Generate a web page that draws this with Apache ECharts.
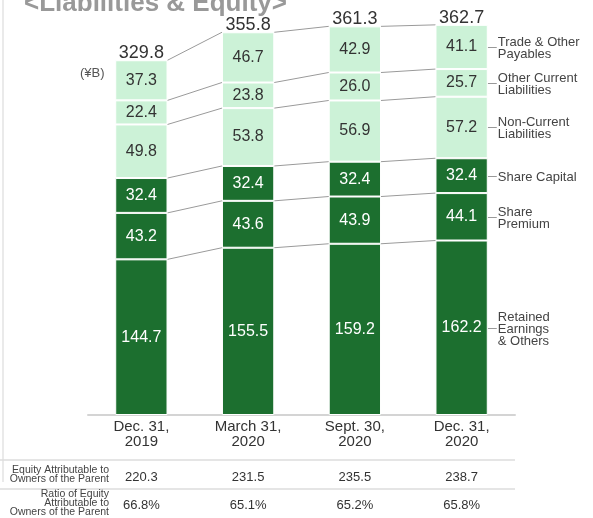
<!DOCTYPE html>
<html>
<head>
<meta charset="utf-8">
<script src="https://cdn.jsdelivr.net/npm/echarts@6/dist/echarts.min.js"></script>
<style>
  html, body { margin: 0; padding: 0; background: #fff; }
  #chart { width: 593px; height: 518px; }
</style>
</head>
<body>
<div id="chart"></div>
<script>
  var categories = ['Dec. 31,\n2019', 'March 31,\n2020', 'Sept. 30,\n2020', 'Dec. 31,\n2020'];

  // stacked from the bottom up
  var retained = [144.7, 155.5, 159.2, 162.2];
  var premium = [43.2, 43.6, 43.9, 44.1];
  var capital = [32.4, 32.4, 32.4, 32.4];
  var nonCurrent = [49.8, 53.8, 56.9, 57.2];
  var otherCurrent = [22.4, 23.8, 26.0, 25.7];
  var tradePayables = [37.3, 46.7, 42.9, 41.1];
  var totals = [329.8, 355.8, 361.3, 362.7];

  var seriesNames = ['Retained\nEarnings\n& Others', 'Share\nPremium', 'Share Capital',
    'Non-Current\nLiabilities', 'Other Current\nLiabilities', 'Trade & Other\nPayables'];

  var equity = ['220.3', '231.5', '235.5', '238.7'];
  var equityRatio = ['66.8%', '65.1%', '65.2%', '65.8%'];
  var rowLabels = ['Equity Attributable to\nOwners of the Parent', 'Ratio of Equity\nAttributable to\nOwners of the Parent'];

  var FONT = '"Liberation Sans", Arial, sans-serif';
  var DARK = '#1c6f2f';
  var LIGHT = '#ccf2d7';

  var stacks = [retained, premium, capital, nonCurrent, otherCurrent, tradePayables];
  var colors = [DARK, DARK, DARK, LIGHT, LIGHT, LIGHT];

  // running tops of each segment, per bar
  var tops = [];
  var bottoms = [];
  var running = [0, 0, 0, 0];
  stacks.forEach(function (arr) {
    bottoms.push(running.slice());
    running = running.map(function (v, i) { return +(v + arr[i]).toFixed(1); });
    tops.push(running.slice());
  });

  var connectorData = [];
  tops.forEach(function (levels) {
    for (var i = 0; i < levels.length - 1; i++) {
      connectorData.push([i, levels[i], levels[i + 1]]);
    }
  });

  var legendData = stacks.map(function (arr, k) {
    return [3, (bottoms[k][3] + tops[k][3]) / 2, k];
  });

  var totalData = totals.map(function (v, i) { return [i, v]; });

  var HALF = 0.245;

  var barSeries = stacks.map(function (arr, k) {
    return {
      type: 'bar',
      name: seriesNames[k],
      stack: 'all',
      barWidth: '49%',
      data: arr,
      itemStyle: { color: colors[k], borderColor: '#fff', borderWidth: 1 },
      label: {
        show: true,
        position: 'inside',
        fontFamily: FONT,
        fontSize: 16,
        color: colors[k] === DARK ? '#fff' : '#333',
        formatter: function (p) { return p.value.toFixed(1); }
      }
    };
  });

  var chart = echarts.init(document.getElementById('chart'));

  var option = {
    animation: false,
    title: {
      text: '<Liabilities & Equity>',
      left: 19,
      top: -14,
      textStyle: { fontFamily: FONT, fontSize: 26, fontWeight: 'bold', color: '#999' }
    },
    grid: { left: 88, right: 78, top: 17, bottom: 103 },
    xAxis: [
      {
        type: 'category',
        data: categories,
        axisLine: { lineStyle: { color: '#d4d4d4', width: 2 } },
        axisTick: { show: false },
        axisLabel: { fontFamily: FONT, fontSize: 15, lineHeight: 15, color: '#333', margin: 4 }
      },
      {
        type: 'category',
        data: equity,
        position: 'bottom',
        offset: 56,
        axisLine: { show: false },
        axisTick: { show: false },
        axisLabel: { fontFamily: FONT, fontSize: 13, color: '#333', margin: 0 }
      },
      {
        type: 'category',
        data: equityRatio,
        position: 'bottom',
        offset: 84,
        axisLine: { show: false },
        axisTick: { show: false },
        axisLabel: { fontFamily: FONT, fontSize: 13, color: '#333', margin: 0 }
      }
    ],
    yAxis: { type: 'value', min: 0, max: 370, show: false },
    graphic: [
      { type: 'line', shape: { x1: 3, y1: 0, x2: 3, y2: 482 }, style: { stroke: '#e3e3e3', lineWidth: 1.5 } },
      { type: 'line', shape: { x1: 0, y1: 460, x2: 515, y2: 460 }, style: { stroke: '#dcdcdc', lineWidth: 1.5 } },
      { type: 'line', shape: { x1: 0, y1: 489, x2: 515, y2: 489 }, style: { stroke: '#dcdcdc', lineWidth: 1.5 } },
      {
        type: 'text', x: 80, y: 73,
        style: { text: '(¥B)', fontFamily: FONT, fontSize: 13, fill: '#555', verticalAlign: 'middle' }
      },
      {
        type: 'text', x: 109, y: 475,
        style: { text: rowLabels[0], fontFamily: FONT, fontSize: 10.5, lineHeight: 9, fill: '#444', align: 'right', verticalAlign: 'middle' }
      },
      {
        type: 'text', x: 109, y: 503,
        style: { text: rowLabels[1], fontFamily: FONT, fontSize: 10.5, lineHeight: 9, fill: '#444', align: 'right', verticalAlign: 'middle' }
      }
    ],
    series: barSeries.concat([
      {
        type: 'custom',
        name: 'connectors',
        silent: true,
        data: connectorData,
        encode: { x: 0, y: [1, 2] },
        renderItem: function (params, api) {
          var i = api.value(0);
          var p1 = api.coord([i, api.value(1)]);
          var p2 = api.coord([i + 1, api.value(2)]);
          var half = api.size([1, 0])[0] * HALF;
          return {
            type: 'line',
            shape: { x1: p1[0] + half, y1: p1[1], x2: p2[0] - half, y2: p2[1] },
            style: { stroke: '#9a9a9a', lineWidth: 1 }
          };
        }
      },
      {
        type: 'custom',
        name: 'totals',
        silent: true,
        data: totalData,
        encode: { x: 0, y: 1 },
        renderItem: function (params, api) {
          var p = api.coord([api.value(0), api.value(1)]);
          return {
            type: 'text',
            style: {
              text: totals[params.dataIndex].toFixed(1),
              x: p[0], y: p[1] + 2,
              align: 'center', verticalAlign: 'bottom',
              fontFamily: FONT, fontSize: 18, fill: '#333'
            }
          };
        }
      },
      {
        type: 'custom',
        name: 'legendLabels',
        silent: true,
        data: legendData,
        encode: { x: 0, y: 1 },
        renderItem: function (params, api) {
          var p = api.coord([api.value(0), api.value(1)]);
          var half = api.size([1, 0])[0] * HALF;
          var x0 = p[0] + half;
          var y = Math.round(p[1]) + 0.5;
          return {
            type: 'group',
            children: [
              { type: 'line', shape: { x1: x0, y1: y, x2: x0 + 9, y2: y }, style: { stroke: '#999', lineWidth: 1 } },
              {
                type: 'text',
                style: {
                  text: seriesNames[api.value(2)],
                  x: x0 + 10, y: y + 1,
                  align: 'left', verticalAlign: 'middle',
                  fontFamily: FONT, fontSize: 13, lineHeight: 12, fill: '#444'
                }
              }
            ]
          };
        }
      }
    ])
  };

  chart.setOption(option);
</script>
</body>
</html>
